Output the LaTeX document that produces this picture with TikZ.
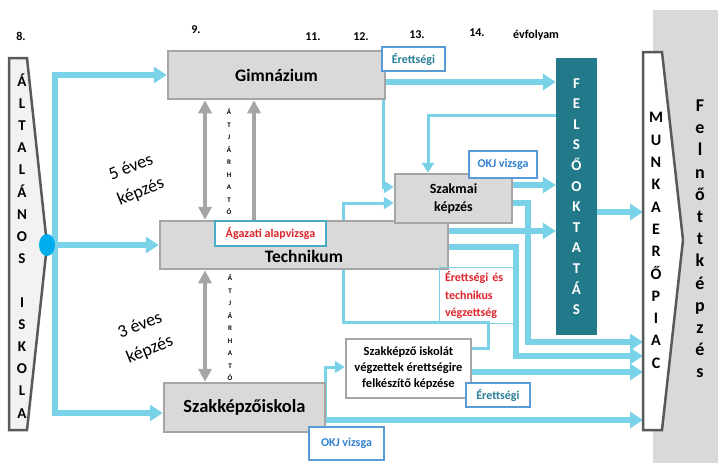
\documentclass[tikz,border=0pt]{standalone}
\usepackage{fontspec}
\setmainfont{Carlito}
\usepackage{tikz}
\usetikzlibrary{arrows.meta,shapes.geometric}
\pgfdeclarelayer{back}
\pgfsetlayers{back,main}

\definecolor{flowblue}{RGB}{122,210,232}
\definecolor{dotblue}{RGB}{0,174,239}
\definecolor{boxfill}{RGB}{217,217,217}
\definecolor{boxline}{RGB}{165,165,165}
\definecolor{edgegray}{RGB}{89,89,89}
\definecolor{sidefill}{RGB}{242,242,242}
\definecolor{felsoteal}{RGB}{33,121,138}
\definecolor{tagblue}{RGB}{91,155,213}
\definecolor{tagteal}{RGB}{75,172,198}
\definecolor{examteal}{RGB}{40,128,150}
\definecolor{okjblue}{RGB}{50,130,210}
\definecolor{redtext}{RGB}{222,36,44}

\tikzset{
	school/.style={draw=boxline, fill=boxfill, line width=2.5pt, inner sep=0pt, font=\bfseries\fontsize{17.5}{20}\selectfont},
	tag/.style={draw=tagblue, fill=white, line width=1.2pt, inner sep=0pt, font=\bfseries\fontsize{12}{14}\selectfont},
	flow/.style={flowblue, line width=5.5pt, -{Triangle[length=13pt,width=16pt]}},
	thinflow/.style={flowblue, line width=3pt, -{Triangle[length=10pt,width=12pt]}},
	pass/.style={boxline, line width=4pt, >={Triangle[length=13pt,width=13pt]}},
	column/.style={inner sep=0pt, align=center}
}

\begin{document}
\begin{tikzpicture}[x=1pt, y=-1pt]
		%%%%% START %%%%%
		\useasboundingbox (0,0) rectangle (718,463);
		
		\node[font=\bfseries\fontsize{12}{14}\selectfont] (y8) at (21,36) {8.};
		\node[font=\bfseries\fontsize{12}{14}\selectfont] (y9) at (196,30) {9.};
		\node[font=\bfseries\fontsize{12}{14}\selectfont] (y11) at (313,37) {11.};
		\node[font=\bfseries\fontsize{12}{14}\selectfont] (y12) at (361,37) {12.};
		\node[font=\bfseries\fontsize{12}{14}\selectfont] (y13) at (417,35) {13.};
		\node[font=\bfseries\fontsize{12}{14}\selectfont] (y14) at (477,33) {14.};
		\node[font=\bfseries\fontsize{12}{14}\selectfont] (evf) at (536,35) {évfolyam};
		
		\draw[edgegray, fill=sidefill, line width=2.5pt] (9,58) -- (27,58) -- (47,245) -- (27,430) -- (9,430) -- cycle;
		\node[column, font=\bfseries\fontsize{15}{22.1}\selectfont] (alttext) at (22,246) {Á\\L\\T\\A\\L\\Á\\N\\O\\S\\~\\I\\S\\K\\O\\L\\A};
		\node[ellipse, fill=dotblue, minimum width=16pt, minimum height=22pt, inner sep=0pt] (dot) at (47,245) {};
		
		\node[school, minimum width=217pt, minimum height=48pt] (gimn) at (276.5,75) {Gimnázium};
		\node[school, minimum width=288pt, minimum height=48pt, text height=41.5pt, text depth=6.5pt] (tech) at (304,245) {Technikum};
		\node[school, minimum width=161pt, minimum height=49pt, font=\bfseries\fontsize{18.5}{20}\selectfont] (szki) at (244.5,407.5) {Szakképzőiskola};
		\node[school, minimum width=117pt, minimum height=49pt, align=center, font=\bfseries\fontsize{14}{18}\selectfont] (szakmai) at (453.5,198.5) {Szakmai\\képzés};
		\node[school, fill=white, minimum width=125pt, minimum height=59pt, align=center, font=\bfseries\fontsize{12.5}{16}\selectfont] (prep) at (408.5,368.5) {Szakképző iskolát\\végzettek érettségire\\felkészítő képzése};
		
		\node[fill=felsoteal, minimum width=41pt, minimum height=277pt, column, text=white, font=\bfseries\fontsize{15}{20.6}\selectfont] (felso) at (576.5,196.5) {F\\E\\L\\S\\Ő\\O\\K\\T\\A\\T\\Á\\S};
		
		\draw[edgegray, fill=white, line width=2.5pt] (643,52) -- (662,52) -- (683,240) -- (662,430) -- (643,430) -- cycle;
		\coordinate (munka) at (643,240);
		\node[column, font=\bfseries\fontsize{16}{22.3}\selectfont] (munkatext) at (656,240.5) {M\\U\\N\\K\\A\\E\\R\\Ő\\P\\I\\A\\C};
		\node[column, font=\bfseries\fontsize{18}{22.2}\selectfont] (felnott) at (700,239) {F\\e\\l\\n\\ő\\t\\t\\k\\é\\p\\z\\é\\s};
		
		\node[tag, draw=tagteal, text=redtext, minimum width=111pt, minimum height=25pt] (agazati) at (270.5,233.5) {Ágazati alapvizsga};
		\node[tag, text=examteal, minimum width=63pt, minimum height=24pt] (eretts1) at (413.5,59) {Érettségi};
		\node[tag, text=okjblue, minimum width=68pt, minimum height=27pt] (okj1) at (503,164.5) {OKJ vizsga};
		\node[tag, text=examteal, minimum width=64pt, minimum height=24pt] (eretts2) at (498,395) {Érettségi};
		\node[tag, text=okjblue, minimum width=75pt, minimum height=33pt] (okj2) at (346.5,443.5) {OKJ vizsga};
		\node[tag, draw=flowblue, line width=1pt, fill=none, text=redtext, text width=62pt, align=left, inner xsep=6pt, minimum height=56pt, font=\bfseries\fontsize{12}{17.5}\selectfont] (vegz) at (476,295) {Érettségi és\\technikus\\végzettség};
		
		\node[column, font=\bfseries\fontsize{7}{12.5}\selectfont] (atj1) at (229,162) {Á\\T\\J\\Á\\R\\H\\A\\T\\Ó};
		\node[column, font=\bfseries\fontsize{7}{12.5}\selectfont] (atj2) at (230,328) {Á\\T\\J\\Á\\R\\H\\A\\T\\Ó};
		
		\node[rotate=22, align=center, font=\fontsize{18}{26}\selectfont] (five) at (136,180) {5 éves\\képzés};
		\node[rotate=22, align=center, font=\fontsize{18}{26}\selectfont] (three) at (145,338) {3 éves\\képzés};
		
		\draw[pass, <->] (gimn.south -| 205,0) -- (tech.north -| 205,0);
		\draw[pass, ->] (tech.north -| 254,0) -- (gimn.south -| 254,0);
		\draw[pass, <->] (tech.south -| 205,0) -- (szki.north -| 205,0);
		
		\begin{pgfonlayer}{back}
		\fill[boxfill] (653,10) rectangle (718,463);
		
		\coordinate (ltop) at (55,75);
		\coordinate (lbot) at (55,413);
		\draw[flow] (dot.center) -- (tech.west);
		\draw[flow] (lbot) -- (ltop) -- (gimn.west);
		\draw[flow] (ltop) |- (szki.west |- lbot);
		
		\draw[flow] (gimn.east |- 0,82) -- (felso.west |- 0,82);
		\draw[thinflow] ([xshift=-3pt]gimn.east |- 0,82) |- (szakmai.west |- 0,187);
		\draw[thinflow] (felso.west |- 0,115) -| ([xshift=-25.5pt]szakmai.north);
		\draw[flow] (szakmai.east |- 0,185) -- (felso.west |- 0,185);
		\draw[flow] (szakmai.east |- 0,203) -| (528,342) -- (munka |- 0,342);
		\draw[flow] (tech.east |- 0,231) -- (felso.west |- 0,231);
		\draw[flow] (tech.east |- 0,247) -| (516,356) -- (munka |- 0,356);
		\draw[flow] (felso.east |- 0,212) -- (munka |- 0,212);
		\draw[flow] (prep.east |- 0,372) -- (munka |- 0,372);
		\draw[flow] (szki.east |- 0,420) -- (munka |- 0,420);
		\draw[thinflow] ([xshift=-1pt]szki.east |- 0,420) |- (prep.west |- 0,367);
		\draw[thinflow] (prep.east |- 0,348) -| (488,322) -| (343,203) -- (szakmai.west |- 0,203);
		\end{pgfonlayer}
		
		%%%%% END %%%%%
\end{tikzpicture}
\end{document}
